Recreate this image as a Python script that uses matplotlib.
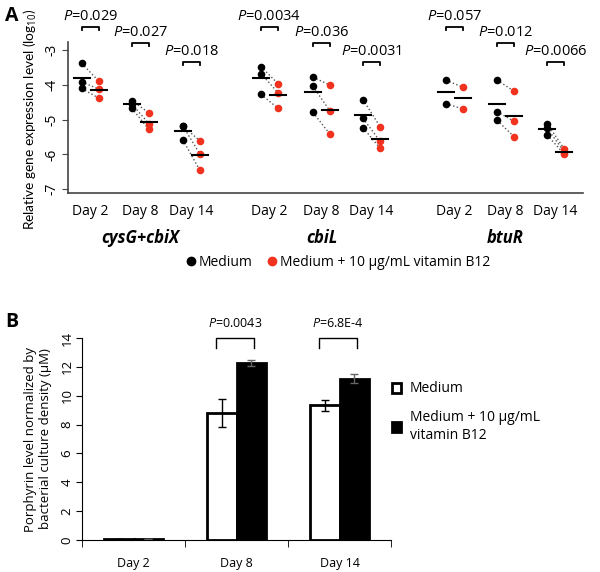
import numpy as np
import matplotlib
matplotlib.use('Agg')
import matplotlib.pyplot as plt
from matplotlib.lines import Line2D
from matplotlib.patches import Patch

plt.rcParams['font.family'] = ['Open Sans', 'DejaVu Sans']
plt.rcParams['mathtext.fontset'] = 'custom'
plt.rcParams['mathtext.it'] = 'Open Sans:italic'
plt.rcParams['mathtext.rm'] = 'Open Sans'

# ---- panel A data (log10 relative expression) ----
genes = ['cysG+cbiX', 'cbiL', 'btuR']
days = ['Day 2', 'Day 8', 'Day 14']
medium = [
    [-3.38, -3.91, -4.10], [-4.45, -4.55, -4.67], [-5.18, -5.18, -5.58],
    [-3.47, -3.67, -4.27], [-3.78, -4.04, -4.79], [-4.42, -4.96, -5.23],
    [-3.86, -4.54], [-3.86, -4.77, -5.02], [-5.11, -5.25, -5.44],
]
b12 = [
    [-3.89, -4.12, -4.38], [-4.80, -5.11, -5.28], [-5.61, -5.99, -6.46],
    [-3.96, -4.22, -4.67], [-4.00, -4.75, -5.42], [-5.20, -5.62, -5.82],
    [-4.07, -4.69], [-4.18, -5.05, -5.49], [-5.84, -5.92, -5.99],
]
pvals_a = ['0.029', '0.027', '0.018', '0.0034', '0.036', '0.0031',
           '0.057', '0.012', '0.0066']

# ---- panel B data (porphyrin, uM) ----
days_b = ['Day 2', 'Day 8', 'Day 14']
porph_medium = [0.05, 8.8, 9.35]
porph_medium_err = [0.0, 1.0, 0.38]
porph_b12 = [0.05, 12.25, 11.18]
porph_b12_err = [0.0, 0.2, 0.33]
pvals_b = [None, '0.0043', '6.8E-4']

RED = '#f0321e'

fig = plt.figure(figsize=(6.0, 5.72), dpi=100)

# ================= panel A =================
ax = fig.add_axes([0.113, 0.6626, 0.859, 0.328])
xpos = [0, 1, 2.02, 3.58, 4.62, 5.62, 7.28, 8.3, 9.3]
off = 0.34
bracket_y = [-2.34, -2.80, -3.34]

for i, x0 in enumerate(xpos):
    m = medium[i]
    v = b12[i]
    x1 = x0 + off
    for a, b in zip(m, v):
        ax.plot([x0, x1], [a, b], ls=':', color='#555555', lw=1.0, zorder=1)
    ax.scatter([x0] * len(m), m, s=30, color='black', zorder=3, lw=0)
    ax.scatter([x1] * len(v), v, s=30, color=RED, zorder=3, lw=0)
    ax.plot([x0 - 0.16, x0 + 0.16], [np.mean(m)] * 2, color='black', lw=1.5, zorder=4)
    ax.plot([x1 - 0.16, x1 + 0.16], [np.mean(v)] * 2, color='black', lw=1.5, zorder=4)
    # significance bracket
    by = bracket_y[i % 3]
    ax.plot([x0, x0, x1, x1], [by - 0.09, by, by, by - 0.09], color='black', lw=1.3)
    ax.text((x0 + x1) / 2, by + 0.1, r'$\it{P}$=' + pvals_a[i], ha='center',
            va='bottom', fontsize=10.5)

ax.set_xlim(-0.28, 10.02)
ax.set_ylim(-7.11, -1.707)
ax.set_yticks([-7, -6, -5, -4, -3])
ax.set_yticklabels(['-7', '-6', '-5', '-4', '-3'], rotation=90, va='center')
ax.spines['left'].set_bounds(-7.11, -2.77)
ax.spines['top'].set_visible(False)
ax.spines['right'].set_visible(False)
ax.spines['left'].set_color('#444444')
ax.spines['bottom'].set_color('#444444')
ax.spines['left'].set_linewidth(1.2)
ax.spines['bottom'].set_linewidth(1.2)
ax.tick_params(axis='y', length=4, labelsize=10, color='#444444', pad=2)
ax.set_xticks([x + off / 2 for x in xpos])
ax.set_xticklabels(days * 3)
ax.tick_params(axis='x', length=0, labelsize=10, pad=8)
ax.set_ylabel('Relative gene expression level (log$_{10}$)', fontsize=9.8,
              family=['Lato', 'Open Sans'])
ax.yaxis.set_label_coords(-0.056, 0.395)

for g, k in zip(genes, [1, 4, 7]):
    ax.text(xpos[k] + off / 2, -7.11 - 1.3, g, ha='center', va='center',
            fontsize=12, fontweight='bold', style='italic')

fig.text(0.008, 0.972, 'A', fontsize=14, fontweight='bold', va='center')

handles_a = [Line2D([], [], marker='o', ls='', color='black', markersize=6),
             Line2D([], [], marker='o', ls='', color=RED, markersize=6)]
fig.legend(handles_a, ['Medium', 'Medium + 10 μg/mL vitamin B12'],
           loc='center', bbox_to_anchor=(0.562, 1 - 262 / 572), ncol=2,
           frameon=False, fontsize=10, handletextpad=0.05, columnspacing=0.9,
           handlelength=1.0)

# ================= panel B =================
bx = fig.add_axes([0.1367, 0.056, 0.515, 0.353])
xb = np.arange(len(days_b))
w = 0.29
bx.bar(xb - w / 2, porph_medium, w, color='white', edgecolor='black', lw=2,
       yerr=porph_medium_err, capsize=3, error_kw=dict(lw=1, capthick=1))
bx.bar(xb + w / 2, porph_b12, w, color='black', edgecolor='black', lw=2,
       yerr=porph_b12_err, capsize=3, error_kw=dict(lw=1, capthick=1, ecolor='#666666'))
bx.set_xlim(-0.5, 2.5)
bx.set_ylim(0, 14)
bx.set_yticks(range(0, 15, 2))
bx.set_yticklabels([str(t) for t in range(0, 15, 2)], rotation=90, va='center')
bx.set_xticks(xb)
bx.set_xticklabels(days_b)
bx.set_xticks([-0.5, 0.5, 1.5, 2.5], minor=True)
bx.tick_params(axis='x', which='major', length=0, labelsize=9, pad=12)
bx.tick_params(axis='x', which='minor', length=5, direction='out')
bx.tick_params(axis='y', length=4, labelsize=9.5, pad=2)
for s in ['top', 'right']:
    bx.spines[s].set_visible(False)
bx.set_ylabel('Porphyrin level normalized by\nbacterial culture density (μM)',
              fontsize=9.5, labelpad=6)

for i, p in enumerate(pvals_b):
    if p is None:
        continue
    x0 = xb[i] - 0.2
    x1 = xb[i] + 0.17
    bx.plot([x0, x0, x1, x1], [13.3, 13.98, 13.98, 13.3], color='black', lw=1,
            clip_on=False)
    bx.text((x0 + x1) / 2, 14.55, r'$\it{P}$=' + p, ha='center', va='bottom',
            fontsize=9, clip_on=False)

fig.text(0.008, 1 - 322 / 572, 'B', fontsize=14, fontweight='bold', va='center')

handles_b = [Patch(facecolor='white', edgecolor='black', lw=2),
             Patch(facecolor='black', edgecolor='black', lw=2)]
fig.legend(handles_b, ['Medium', 'Medium + 10 μg/mL\nvitamin B12'],
           loc='upper left', bbox_to_anchor=(0.632, 1 - 369 / 572), frameon=False,
           fontsize=10, handlelength=0.7, handleheight=0.7, handletextpad=0.6,
           labelspacing=1.0)

fig.savefig('out.png', dpi=100)
